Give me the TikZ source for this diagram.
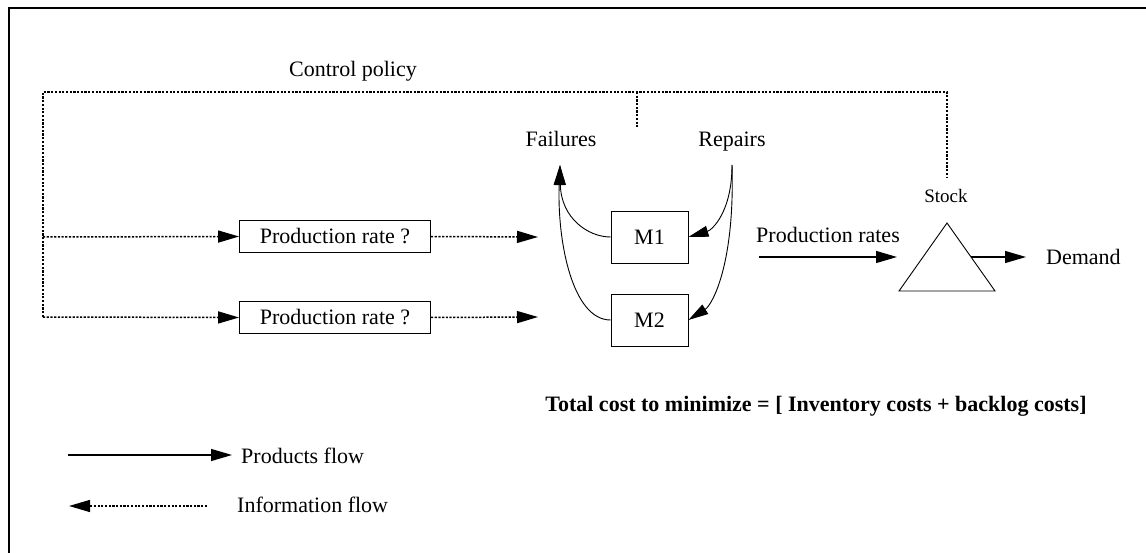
\documentclass[tikz,border=0pt]{standalone}
\usepackage{fontspec}
\setmainfont{Liberation Serif}
\usetikzlibrary{arrows.meta,calc}
\begin{document}
\begin{tikzpicture}[x=1pt,y=-1pt,
  every node/.style={font=\fontsize{22}{26}\selectfont, inner sep=0pt},
  info/.style={line width=1.5pt, dash pattern=on 2.2pt off 1.5pt},
  prod/.style={line width=1.3pt},
  tip/.style={-{Triangle[length=21pt,width=12pt]}},
  boxed/.style={draw, line width=0.9pt, minimum height=32pt, minimum width=191pt},
  mach/.style={draw, line width=0.9pt, minimum height=52pt, minimum width=77pt},
  curve/.style={line width=0.9pt, -{Triangle[length=20pt,width=11pt]}}]
\useasboundingbox (0,0) rectangle (1146,553);
% frame
\draw[line width=2pt] (9,553) -- (9,8) -- (1146,8);

% labels
\node[anchor=base] (ctrl) at (353,77) {Control policy};
\node[anchor=base] (fail) at (561,147) {Failures};
\node[anchor=base] (rep) at (732,147) {Repairs};
\node[anchor=base] (stock) at (946,203) {\fontsize{19}{22}\selectfont Stock};
\node[anchor=base] (prates) at (828,243) {Production rates};
\node[anchor=base west] (dem) at (1046,265) {Demand};
\node[anchor=base] (cost) at (816,411) {\bfseries Total cost to minimize = [ Inventory costs + backlog costs]};

% boxes
\node[boxed] (pr1) at (335,236.5) {Production rate ?};
\node[boxed] (pr2) at (335,317.5) {Production rate ?};
\node[mach] (m1) at (649.5,237) {M1};
\node[mach] (m2) at (649.5,320) {M2};

% triangle
\coordinate (tA) at (947,223);
\coordinate (tL) at (899,291);
\coordinate (tR) at (995,291);
\draw[line width=0.9pt] (tA) -- (tR) -- (tL) -- cycle;

% info lines
\coordinate (cl) at (43,92);
\coordinate (cm) at (637,92);
\coordinate (cmb) at (637,128);
\coordinate (cr) at (947,92);
\coordinate (crb) at (947,178);
\coordinate (l1) at (43,237);
\coordinate (l2) at (43,317);
\coordinate (o1) at (538,237);
\coordinate (o2) at (538,317);
\draw[info] (l2) -- (cl) -- (cr) -- (crb);
\draw[info] (cm) -- (cmb);
\draw[info,tip] (l1) -- (pr1.west);
\draw[info,tip] (l2) -- (pr2.west);
\draw[info,tip] (pr1.east) -- (o1);
\draw[info,tip] (pr2.east) -- (o2);

% failures / repairs curves
\coordinate (ft) at (560,165);
\coordinate (rs) at (732,165);
\draw[curve] (m1.west) .. controls (588,237) and (561,218) .. (ft);
\draw[curve] (m2.west) .. controls (572,320) and (557,240) .. (ft);
\draw[curve] (rs) .. controls (732,212) and (712,230) .. (m1.east);
\draw[curve] (rs) .. controls (735,265) and (712,305) .. (m2.east);

% product flow
\coordinate (pa) at (759,257);
\coordinate (pb) at (897,257);
\draw[prod,tip] (pa) -- (pb);
\draw[prod,tip] ($(tA)!0.5!(tR)$) -- (1026,257);

% legend
\coordinate (la) at (68,455);
\coordinate (lb) at (232,455);
\draw[prod,tip] (la) -- (lb);
\node[anchor=base west] (lp) at (241,463) {Products flow};
\coordinate (ia) at (207,506);
\coordinate (ib) at (69,506);
\draw[info,tip] (ia) -- (ib);
\node[anchor=base west] (li) at (237,512) {Information flow};
\end{tikzpicture}
\end{document}
